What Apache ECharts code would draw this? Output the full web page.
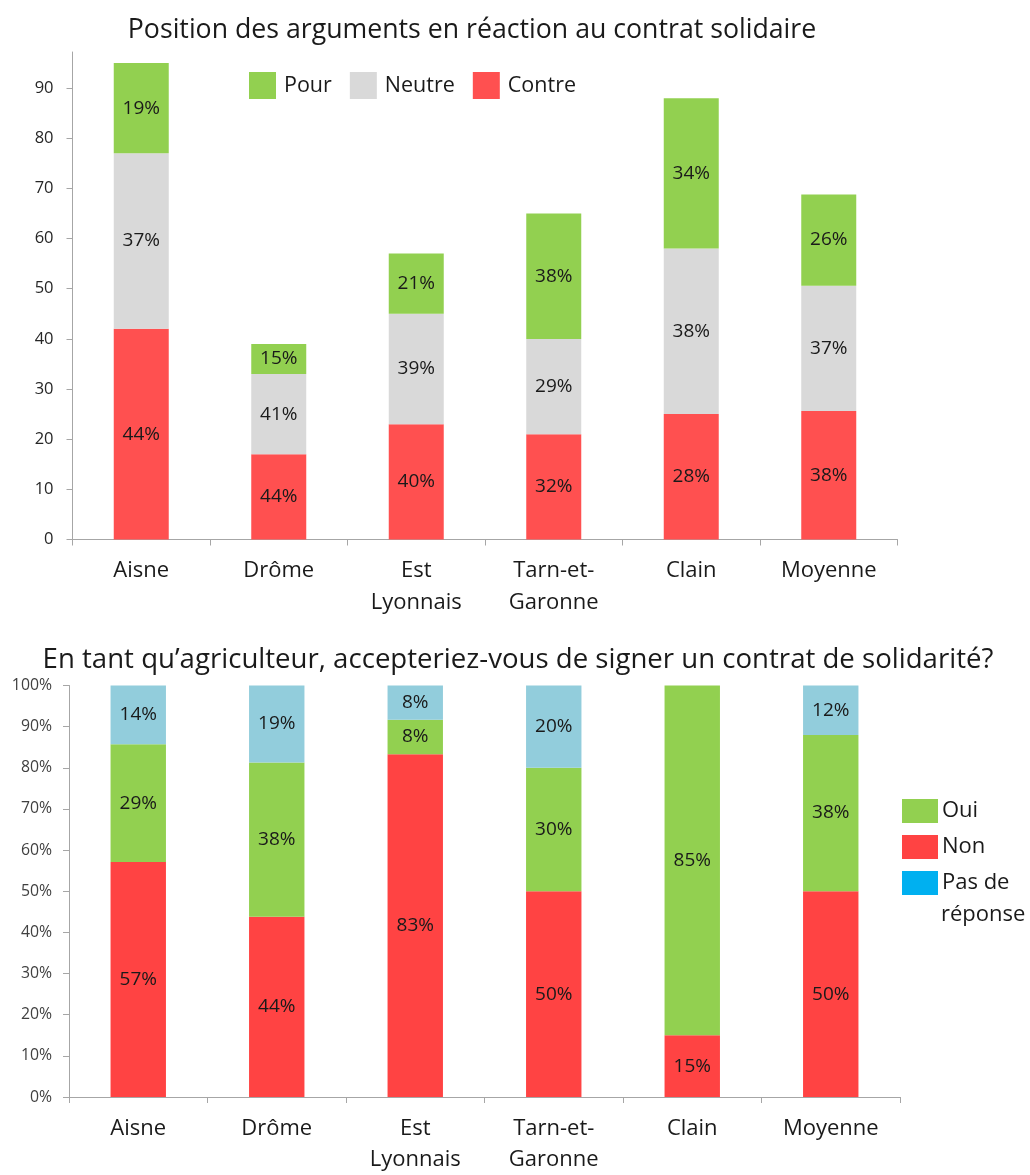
<!DOCTYPE html>
<html>
<head>
<meta charset="utf-8">
<script src="https://cdn.jsdelivr.net/npm/echarts@6/dist/echarts.min.js"></script>
<style>
html,body{margin:0;padding:0;background:#fff;}
#c{width:1030px;height:1175px;}
</style>
</head>
<body>
<div id="c"></div>
<script>
// ---- Data ----
const categories = ['Aisne', 'Drôme', 'Est\nLyonnais', 'Tarn-et-\nGaronne', 'Clain', 'Moyenne'];

// Chart 1: number of arguments (stacked)
const contreValues = [42, 17, 23, 21, 25, 25.6];
const neutreValues = [35, 16, 22, 19, 33, 25];
const pourValues   = [18, 6, 12, 25, 30, 18.2];
const contreLabels = ['44%', '44%', '40%', '32%', '28%', '38%'];
const neutreLabels = ['37%', '41%', '39%', '29%', '38%', '37%'];
const pourLabels   = ['19%', '15%', '21%', '38%', '34%', '26%'];
const topTicks = [0, 10, 20, 30, 40, 50, 60, 70, 80, 90];

// Chart 2: share of answers (%)
const nonValues = [57.1, 43.8, 83.3, 50, 15, 50];
const ouiValues = [28.6, 37.5, 8.4, 30, 85, 38];
const pasValues = [14.3, 18.7, 8.3, 20, 0, 12];

const FONT = 'Open Sans';
const axisColor = '#a6a6a6';

function pctFmt(p) { return p.value ? Math.round(p.value) + '%' : ''; }
function fromArr(arr) { return function (p) { return arr[p.dataIndex]; }; }

const labelStyle = { show: true, position: 'inside', color: '#1a1a1a', fontSize: 19, fontFamily: FONT };

const chart = echarts.init(document.getElementById('c'), null, { renderer: 'canvas' });
chart.setOption({
  animation: false,
  backgroundColor: '#fff',
  title: [
    { text: 'Position des arguments en réaction au contrat solidaire', left: 467, top: 12, textAlign: 'center',
      textStyle: { fontFamily: FONT, fontSize: 26.7, fontWeight: 'normal', color: '#1a1a1a' } },
    { text: 'En tant qu\u2019agriculteur, accepteriez-vous de signer un contrat de solidarité?', left: 513, top: 641, textAlign: 'center',
      textStyle: { fontFamily: FONT, fontSize: 27.6, fontWeight: 'normal', color: '#1a1a1a' } }
  ],
  legend: [
    { left: 249, top: 72, padding: 0, orient: 'horizontal', itemWidth: 27, itemHeight: 27, itemGap: 18,
      icon: 'rect', data: ['Pour', 'Neutre', 'Contre'],
      textStyle: { fontFamily: FONT, fontSize: 21.5, color: '#1a1a1a', padding: [3, 0, 0, 3] } },
    { left: 902, top: 798, padding: 0, orient: 'vertical', itemWidth: 36, itemHeight: 24, itemGap: 10,
      icon: 'rect',
      data: ['Oui', 'Non', { name: 'Pas de réponse', itemStyle: { color: '#00b0f0' } }],
      formatter: function (n) { return n === 'Pas de réponse' ? 'Pas de' : n; },
      textStyle: { fontFamily: FONT, fontSize: 22, color: '#1a1a1a', lineHeight: 24, padding: [2, 0, 0, -1] } }
  ],
  graphic: [
    { type: 'text', left: 941, top: 904,
      style: { text: 'réponse', fontFamily: FONT, fontSize: 22, fill: '#1a1a1a' } }
  ],
  grid: [
    { left: 72.5, width: 825, top: 52, height: 487.5 },
    { left: 69, width: 831, top: 685.5, height: 416.5 }
  ],
  xAxis: [
    { type: 'category', gridIndex: 0, data: categories,
      axisLine: { lineStyle: { color: axisColor } },
      axisTick: { show: true, length: 6, lineStyle: { color: axisColor } },
      axisLabel: { fontFamily: FONT, fontSize: 22, color: '#1a1a1a', margin: 15, lineHeight: 32, interval: 0 } },
    { type: 'category', gridIndex: 1, data: categories,
      axisLine: { lineStyle: { color: axisColor } },
      axisTick: { show: true, length: 6, lineStyle: { color: axisColor } },
      axisLabel: { fontFamily: FONT, fontSize: 22, color: '#1a1a1a', margin: 16, lineHeight: 31, interval: 0 } }
  ],
  yAxis: [
    { type: 'value', gridIndex: 0, min: 0, max: 97.2, interval: 10,
      axisLine: { show: true, lineStyle: { color: axisColor } },
      axisTick: { show: true, length: 6, customValues: topTicks, lineStyle: { color: axisColor } },
      splitLine: { show: false },
      axisLabel: { customValues: topTicks, fontFamily: FONT, fontSize: 16.5, color: '#262626', margin: 19 } },
    { type: 'value', gridIndex: 1, min: 0, max: 100, interval: 10,
      axisLine: { show: true, lineStyle: { color: axisColor } },
      axisTick: { show: true, length: 6, lineStyle: { color: axisColor } },
      splitLine: { show: false },
      axisLabel: { fontFamily: FONT, fontSize: 15.8, color: '#404040', margin: 17,
                   formatter: function (v) { return v + '%'; } } }
  ],
  series: [
    { name: 'Contre', type: 'bar', stack: 'a', xAxisIndex: 0, yAxisIndex: 0, barWidth: '40%',
      data: contreValues, itemStyle: { color: '#ff5050' }, label: Object.assign({}, labelStyle, { formatter: fromArr(contreLabels) }) },
    { name: 'Neutre', type: 'bar', stack: 'a', xAxisIndex: 0, yAxisIndex: 0, barWidth: '40%',
      data: neutreValues, itemStyle: { color: '#d9d9d9' }, label: Object.assign({}, labelStyle, { formatter: fromArr(neutreLabels) }) },
    { name: 'Pour', type: 'bar', stack: 'a', xAxisIndex: 0, yAxisIndex: 0, barWidth: '40%',
      data: pourValues, itemStyle: { color: '#92d050' }, label: Object.assign({}, labelStyle, { formatter: fromArr(pourLabels) }) },

    { name: 'Non', type: 'bar', stack: 'b', xAxisIndex: 1, yAxisIndex: 1, barWidth: '40%',
      data: nonValues, itemStyle: { color: '#ff4343' }, label: Object.assign({}, labelStyle, { formatter: pctFmt }) },
    { name: 'Oui', type: 'bar', stack: 'b', xAxisIndex: 1, yAxisIndex: 1, barWidth: '40%',
      data: ouiValues, itemStyle: { color: '#92d050' }, label: Object.assign({}, labelStyle, { formatter: pctFmt }) },
    { name: 'Pas de réponse', type: 'bar', stack: 'b', xAxisIndex: 1, yAxisIndex: 1, barWidth: '40%',
      data: pasValues, itemStyle: { color: '#92cddc' }, label: Object.assign({}, labelStyle, { formatter: pctFmt }) }
  ]
});
</script>
</body>
</html>
